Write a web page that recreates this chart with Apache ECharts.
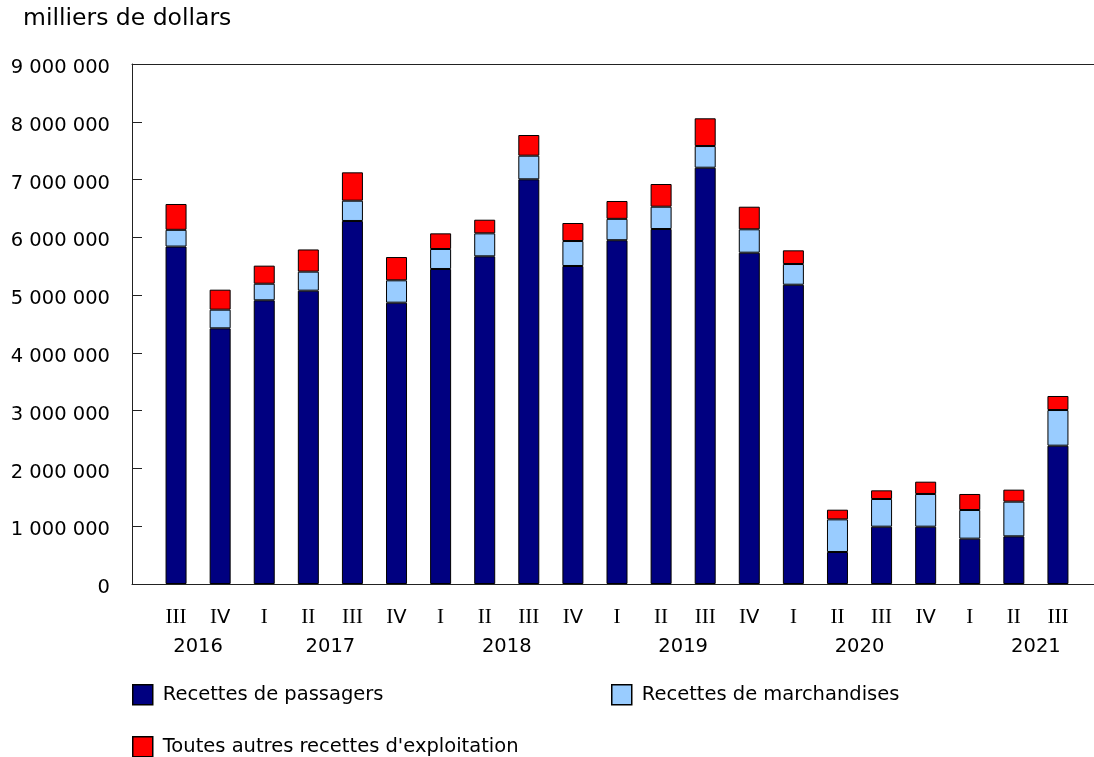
<!DOCTYPE html>
<html>
<head>
<meta charset="utf-8">
<script src="https://cdn.jsdelivr.net/npm/echarts@6/dist/echarts.min.js"></script>
<style>
html,body{margin:0;padding:0;background:#fff;}
#chart{width:1094px;height:757px;}
</style>
</head>
<body>
<div id="chart"></div>
<script>
// ---- Data (thousands of dollars) ----
const quarters = ['III','IV','I','II','III','IV','I','II','III','IV','I','II','III','IV','I','II','III','IV','I','II','III'];
const quarterYears = ['2016','2016','2017','2017','2017','2017','2018','2018','2018','2018','2019','2019','2019','2019','2020','2020','2020','2020','2021','2021','2021'];
const years = ['2016','2017','2018','2019','2020','2021'];
const passengers = [5840000,4425000,4910000,5077000,6283000,4869000,5452000,5671000,7004000,5504000,5950000,6144000,7205000,5734000,5180000,554000,992000,992000,785000,825000,2394000];
const cargo = [290000,323000,287000,329000,351000,387000,346000,398000,409000,432000,370000,386000,375000,405000,358000,565000,479000,566000,496000,600000,617000];
const other = [447000,346000,313000,384000,491000,403000,271000,236000,358000,312000,309000,393000,480000,391000,237000,167000,150000,213000,277000,208000,243000];
const seriesNames = ['Recettes de passagers','Recettes de marchandises',"Toutes autres recettes d'exploitation"];
const yTicks = [0,1000000,2000000,3000000,4000000,5000000,6000000,7000000,8000000,9000000];
const unitTitle = 'milliers de dollars';

// year label position: between quarters II and III when both exist, else centre of the year's quarters
const yearPos = {};
years.forEach(y => {
  const idx = [];
  quarterYears.forEach((qy, i) => { if (qy === y) idx.push(i); });
  const iII = idx.find(i => quarters[i] === 'II');
  const iIII = idx.find(i => quarters[i] === 'III');
  let p;
  if (iII !== undefined && iIII !== undefined) p = (iII + iIII) / 2;
  else p = (idx[0] + idx[idx.length - 1]) / 2;
  yearPos[p.toFixed(2)] = y;
});

function richQuarter(q) {
  return q.replace(/I+|V/g, m => m === 'V' ? '{s|V}' : '{r|' + m + '}');
}
function fmtNum(v) {
  return '{n|' + String(v).replace(/\B(?=(\d{3})+(?!\d))/g, ' ') + '}';
}

const lineColor = '#222';
const FF = 'DejaVu Sans';
const colors = ['#000080', '#99CCFF', '#FF0000'];

const chart = echarts.init(document.getElementById('chart'));

const legendBase = (name, left, top) => ({
  data: [name], left: left, top: top, padding: 0,
  orient: 'horizontal', icon: 'rect', itemWidth: 20, itemHeight: 20,
  itemStyle: { borderColor: '#000', borderWidth: 1.5 },
  textStyle: { fontFamily: FF, fontSize: 19.5, color: '#000', padding: [0, 0, 0, 5] },
  selectedMode: false
});

const hidden = { axisLine: { show: false }, axisTick: { show: false }, axisLabel: { show: false }, splitLine: { show: false } };

chart.setOption({
  animation: false,
  backgroundColor: '#fff',
  textStyle: { fontFamily: FF },
  title: {
    text: unitTitle, left: 23, top: 7, padding: 0,
    textStyle: { fontFamily: FF, fontSize: 23.5, fontWeight: 'normal', color: '#000' }
  },
  legend: [
    legendBase(seriesNames[0], 132, 684),
    legendBase(seriesNames[1], 611, 684),
    legendBase(seriesNames[2], 132, 736)
  ],
  grid: [
    { left: 154, right: 14, top: 64, bottom: 173, containLabel: false },
    { left: 132, right: 0, top: 64, bottom: 173, containLabel: false }
  ],
  xAxis: [
    {
      type: 'category', gridIndex: 0, data: quarters, boundaryGap: true, position: 'bottom',
      axisLine: { show: false }, axisTick: { show: false }, splitLine: { show: false },
      axisLabel: {
        interval: 0, margin: 23, color: '#000',
        formatter: function (v) { return richQuarter(v); },
        rich: {
          r: { fontFamily: 'Liberation Serif', fontSize: 21, color: '#000' },
          s: { fontFamily: FF, fontSize: 19.5, color: '#000' }
        }
      }
    },
    {
      type: 'value', gridIndex: 0, min: -0.5, max: quarters.length - 0.5, interval: 0.5, position: 'bottom',
      axisLine: { show: false, onZero: false }, axisTick: { show: false }, splitLine: { show: false },
      axisLabel: {
        margin: 53, color: '#000', fontFamily: FF, fontSize: 19.5,
        formatter: function (v) { return yearPos[v.toFixed(2)] || ''; }
      }
    },
    {
      type: 'value', gridIndex: 1, min: 0, max: 1, position: 'bottom',
      axisLine: { show: true, onZero: false, lineStyle: { color: lineColor, width: 1 } },
      axisTick: { show: false }, axisLabel: { show: false }, splitLine: { show: false }
    },
    {
      type: 'value', gridIndex: 1, min: 0, max: 1, position: 'top',
      axisLine: { show: true, onZero: false, lineStyle: { color: lineColor, width: 1 } },
      axisTick: { show: false }, axisLabel: { show: false }, splitLine: { show: false }
    }
  ],
  yAxis: [
    {
      type: 'value', gridIndex: 0, offset: 22,
      min: yTicks[0], max: yTicks[yTicks.length - 1], interval: yTicks[1] - yTicks[0],
      axisLine: { show: true, onZero: false, lineStyle: { color: lineColor, width: 1 } },
      axisTick: { show: true, inside: true, length: 10, lineStyle: { color: lineColor, width: 1 } },
      splitLine: { show: false },
      axisLabel: {
        margin: 22, color: '#000', fontFamily: FF, fontSize: 19.5, formatter: fmtNum,
        rich: { n: { fontFamily: FF, fontSize: 19.5, color: '#000', padding: [8, 0, 0, 0] } }
      }
    },
    Object.assign({ type: 'value', gridIndex: 1, min: 0, max: 1 }, hidden)
  ],
  series: [passengers, cargo, other].map((arr, k) => ({
    name: seriesNames[k], type: 'bar', stack: 'total', xAxisIndex: 0, yAxisIndex: 0,
    barWidth: 21, data: arr,
    itemStyle: { color: colors[k], borderColor: '#000', borderWidth: 1 }
  }))
});
</script>
</body>
</html>
